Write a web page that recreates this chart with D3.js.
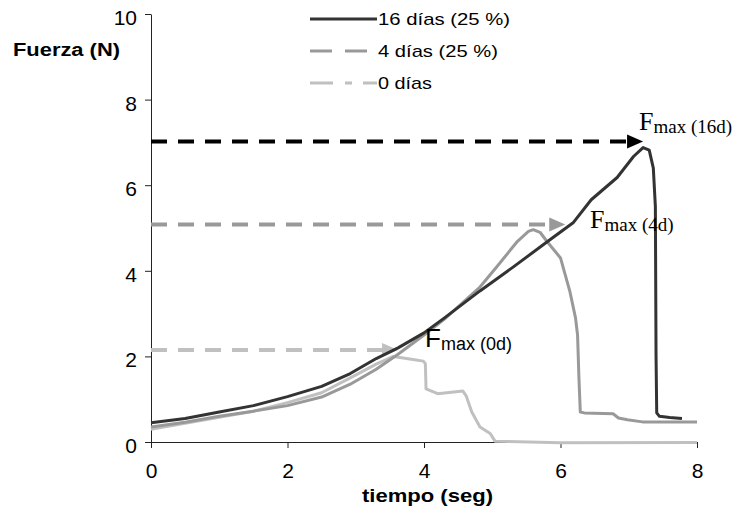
<!DOCTYPE html>
<html lang="es">
<head>
<meta charset="utf-8">
<title>Fuerza vs tiempo</title>
<script src="https://cdn.jsdelivr.net/npm/d3@7"></script>
<style>
  body { margin: 0; background: #fff; }
</style>
</head>
<body>
<script>
// curve samples [tiempo (seg), fuerza (N)]
var d16 = [[0,0.45],[0.5,0.55],[1,0.7],[1.5,0.85],[2,1.06],[2.5,1.3],[2.92,1.6],[3.3,1.95],
  [3.62,2.2],[4,2.55],[4.3,2.9],[4.82,3.53],[5.3,4.08],[5.85,4.73],[6.19,5.13],[6.45,5.66],
  [6.83,6.18],[7.07,6.67],[7.21,6.88],[7.3,6.82],[7.36,6.4],[7.39,5.5],[7.4,2.0],[7.41,0.68],
  [7.45,0.6],[7.6,0.57],[7.78,0.55]];
var d4 = [[0,0.35],[0.5,0.46],[1,0.6],[1.5,0.72],[2,0.85],[2.5,1.05],[2.92,1.35],[3.3,1.7],
  [3.62,2.05],[4,2.5],[4.3,2.87],[4.82,3.62],[5.07,4.1],[5.37,4.69],[5.53,4.92],[5.6,4.96],
  [5.7,4.9],[5.8,4.69],[6.0,4.3],[6.14,3.5],[6.22,2.9],[6.25,2.5],[6.27,1.5],[6.29,0.7],
  [6.35,0.68],[6.77,0.66],[6.85,0.56],[6.98,0.52],[7.2,0.47],[8.0,0.47]];
var d0 = [[0,0.3],[0.5,0.44],[1,0.58],[1.5,0.72],[2,0.92],[2.5,1.15],[2.92,1.5],[3.3,1.82],
  [3.55,2.0],[3.84,1.93],[3.99,1.89],[4.02,1.83],[4.03,1.24],[4.2,1.13],[4.57,1.19],[4.62,1.07],
  [4.7,0.7],[4.82,0.35],[4.97,0.2],[5.04,0.02],[6,-0.02],[8,-0.01]];

var seriesNames = ["16 días (25 %)", "4 días (25 %)", "0 días"];
var seriesColors = ["#333333", "#999999", "#c0c0c0"];

// F max arrows: level (N) and where the arrow ends (seg)
var fmaxLevel = [7.02, 5.08, 2.15];
var fmaxTip = [7.21, 6.07, 3.62];
var fmaxColors = ["#000000", "#999999", "#c0c0c0"];

var xTicks = [0, 2, 4, 6, 8];
var yTicks = [0, 2, 4, 6, 8, 10];

var w = 734, h = 508;
var sans = "Arial, 'Liberation Sans', sans-serif";
var serif = "'Liberation Serif', 'Times New Roman', serif";

var xScale = d3.scaleLinear().domain([0, 8]).range([151, 697]);
var yScale = d3.scaleLinear().domain([0, 10]).range([442, 14]);

var svg = d3.select("body").append("svg")
  .attr("width", w).attr("height", h)
  .style("font-family", sans);

// axes
var xAxis = svg.append("g")
  .attr("transform", "translate(0," + yScale(0) + ")")
  .call(d3.axisBottom(xScale).tickValues(xTicks).tickFormat(d3.format("d"))
    .tickSize(6).tickSizeOuter(0).tickPadding(15));
var yAxis = svg.append("g")
  .attr("transform", "translate(" + xScale(0) + ",0)")
  .call(d3.axisLeft(yScale).tickValues(yTicks).tickFormat(d3.format("d"))
    .tickSize(6).tickSizeOuter(0).tickPadding(8));

[xAxis, yAxis].forEach(function(a) {
  a.attr("font-family", null).attr("font-size", null);
  a.selectAll("path, line").attr("stroke", "#222").attr("stroke-width", 1);
  a.selectAll("text").style("font-size", "21px").style("font-family", sans).attr("fill", "#000");
});
yAxis.selectAll("text").attr("dy", "0.5em");

// axis titles
svg.append("text").text("Fuerza (N)")
  .attr("x", 13).attr("y", 56)
  .style("font-size", "18px").style("font-weight", "bold")
  .attr("textLength", 107).attr("lengthAdjust", "spacingAndGlyphs");
svg.append("text").text("tiempo (seg)")
  .attr("x", 362).attr("y", 502)
  .style("font-size", "19px").style("font-weight", "bold")
  .attr("textLength", 131).attr("lengthAdjust", "spacingAndGlyphs");

// dashed F max arrows
fmaxLevel.forEach(function(v, i) {
  var y = yScale(v), tip = xScale(fmaxTip[i]);
  svg.append("line")
    .attr("x1", xScale(0)).attr("x2", tip - 12)
    .attr("y1", y).attr("y2", y)
    .attr("stroke", fmaxColors[i]).attr("stroke-width", 4)
    .attr("stroke-dasharray", "16,11");
  svg.append("path")
    .attr("d", "M" + tip + "," + y + "L" + (tip - 16) + "," + (y - 7) + "L" + (tip - 16) + "," + (y + 7) + "Z")
    .attr("fill", fmaxColors[i]);
});

// curves
var line = d3.line()
  .x(function(d) { return xScale(d[0]); })
  .y(function(d) { return yScale(d[1]); });

[d0, d4, d16].forEach(function(data, k) {
  var idx = 2 - k;
  svg.append("path")
    .datum(data)
    .attr("d", line)
    .attr("fill", "none")
    .attr("stroke", seriesColors[idx])
    .attr("stroke-width", 3)
    .attr("stroke-linejoin", "round");
});

// legend
var legendDash = [null, "22,13", "23,12,7,11"];
var legendLen = [132, 120, 54];
seriesNames.forEach(function(name, i) {
  var y = 19 + i * 32;
  svg.append("line")
    .attr("x1", 310).attr("x2", 377).attr("y1", y).attr("y2", y)
    .attr("stroke", seriesColors[i]).attr("stroke-width", 3)
    .attr("stroke-dasharray", legendDash[i]);
  svg.append("text").text(name)
    .attr("x", 378).attr("y", y + 6)
    .style("font-size", "17px")
    .attr("textLength", legendLen[i]).attr("lengthAdjust", "spacingAndGlyphs");
});

// F max labels
function fLabel(x, y, sub, fam, subSize) {
  var t = svg.append("text").attr("x", x).attr("y", y)
    .style("font-family", fam).attr("fill", "#000");
  t.append("tspan").text("F").style("font-size", "26px");
  t.append("tspan").text(sub).style("font-size", subSize + "px").attr("dy", 3);
}
fLabel(639, 130, "max (16d)", serif, 19);
fLabel(590, 228, "max (4d)", serif, 19);
fLabel(425, 347, "max (0d)", sans, 18);
</script>
</body>
</html>
